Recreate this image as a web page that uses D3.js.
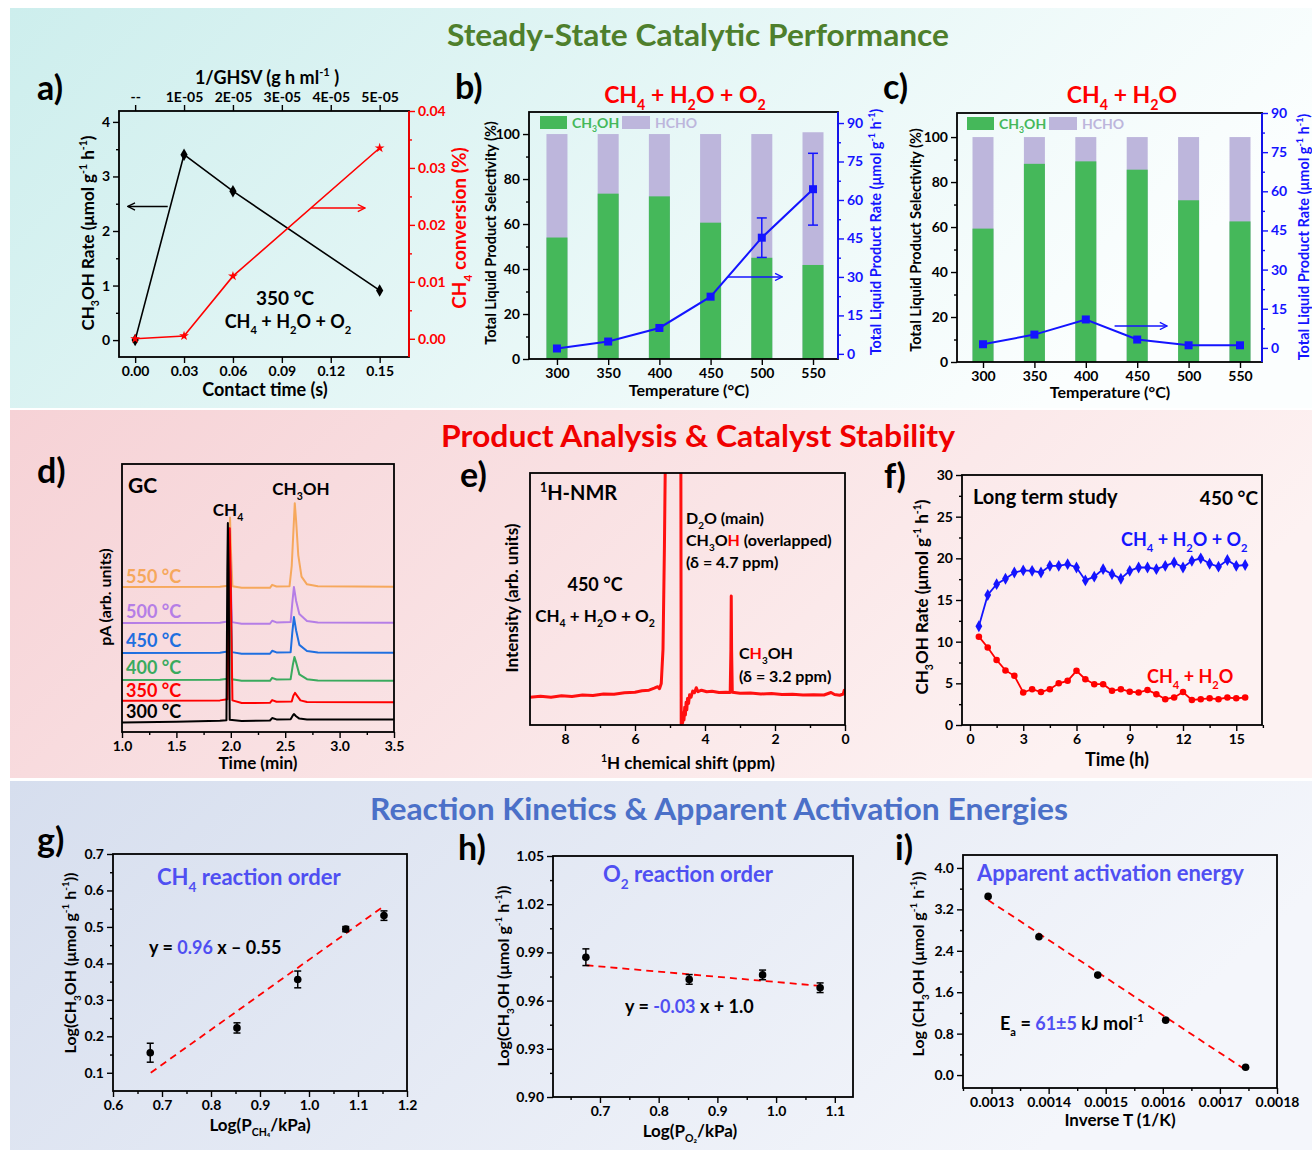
<!DOCTYPE html>
<html>
<head>
<meta charset="utf-8">
<script src="https://cdn.jsdelivr.net/npm/d3@7"></script>
<style>
body { margin: 0; background: #fff; }
text { font-family: Lato, "Open Sans", sans-serif; font-weight: 700; white-space: pre; }
</style>
</head>
<body>
<div id="fig"></div>
<script>
// ---------------- data ----------------
// a) contact time study
var contactTime = [0, 0.03, 0.06, 0.15];
var rateA = [0, 3.4, 2.73, 0.91];
var convA = [0, 0.0005, 0.011, 0.0335];
var ghsvPos = [0, 0.03, 0.06, 0.09, 0.12, 0.15];
var ghsvLabels = ['--', '1E-05', '2E-05', '3E-05', '4E-05', '5E-05'];

// b) and c) temperature study
var temps = [300, 350, 400, 450, 500, 550];
var selB = [54, 73.5, 72.3, 60.6, 45, 41.8];
var totalB = [100, 100, 100, 100, 100, 100.8];
var rateB = [2.1, 4.8, 10.1, 22.3, 45.3, 64.2];
var errB = [0, 0, 0, 0, 7.7, 14];
var selC = [59.3, 88.1, 89.2, 85.5, 71.9, 62.5];
var totalC = [100, 100, 100, 100, 100, 100];
var rateC = [1.4, 5.1, 10.9, 3.2, 1.0, 1.0];
var errC = [0, 0, 0, 0, 0, 0];

// d) GC traces [time min, signal a.u.]
var gcTemps = [550, 500, 450, 400, 350, 300];
var gc550 = [[1.0,54.1],[1.9,54.2],[1.975,54.6],[1.987,68],[1.993,80],[2.001,68],[2.015,54.4],[2.1,53.8],[2.36,53.8],[2.38,54.9],[2.42,54.3],[2.54,54.4],[2.56,62],[2.588,85.4],[2.6,79],[2.62,66],[2.65,58],[2.7,55.1],[2.8,54.4],[3.5,54.2]];
var gc500 = [[1.0,40.7],[1.9,40.8],[1.97,41.2],[1.98,65],[1.988,76],[1.996,62],[2.01,41.0],[2.1,40.4],[2.36,40.4],[2.38,41.5],[2.42,40.9],[2.55,41.0],[2.565,48],[2.58,54.1],[2.6,49],[2.63,44],[2.7,41.4],[2.8,40.9],[3.5,40.8]];
var gc450 = [[1.0,29.5],[1.9,29.6],[1.97,30.0],[1.98,62],[1.987,75],[1.995,60],[2.01,29.8],[2.1,29.2],[2.36,29.2],[2.38,30.3],[2.42,29.7],[2.55,29.8],[2.565,37],[2.58,42.9],[2.6,38],[2.63,32.5],[2.7,30.2],[2.8,29.7],[3.5,29.6]];
var gc400 = [[1.0,19.4],[1.9,19.5],[1.97,19.9],[1.98,58],[1.987,74],[1.995,56],[2.01,19.7],[2.1,19.1],[2.36,19.1],[2.38,20.2],[2.42,19.6],[2.55,19.7],[2.57,25],[2.585,28],[2.6,26],[2.63,21.5],[2.7,19.7],[2.8,19.2],[3.5,19.1]];
var gc350 = [[1.0,11.7],[1.9,11.8],[1.97,12.2],[1.982,50],[1.99,76],[1.998,60],[2.015,11.8],[2.1,10.8],[2.36,10.9],[2.38,11.9],[2.42,11.3],[2.56,11.4],[2.575,13.5],[2.59,14.6],[2.61,13.5],[2.64,11.8],[2.7,11.2],[3.5,11.1]];
var gc300 = [[1.0,3.5],[1.5,3.8],[1.9,4.2],[1.96,4.4],[1.968,60],[1.973,78],[1.98,60],[1.99,4.6],[2.1,4.1],[2.36,4.3],[2.38,5.2],[2.42,4.7],[2.55,4.8],[2.57,6.2],[2.58,6.7],[2.6,5.9],[2.63,5.0],[2.7,4.7],[3.5,4.7]];

// e) 1H-NMR trace [ppm, intensity a.u.]
var nmrTrace = [[9.0,11.0],[8.7,11.4],[8.4,11.0],[8.1,11.6],[7.8,11.3],[7.5,11.9],[7.2,11.7],[6.9,12.3],[6.6,12.2],[6.3,12.8],[6.0,13.0],[5.8,13.6],[5.6,13.8],[5.45,14.6],[5.35,15.2],[5.3,14.4],[5.25,16.5],[5.2,30],[5.16,70],[5.13,110],[4.9,400],[4.69,110],[4.68,0.5],[4.66,3],[4.64,0.8],[4.62,5],[4.6,2],[4.58,7],[4.56,4],[4.54,9],[4.52,6],[4.5,10.5],[4.47,8.5],[4.44,12],[4.4,11],[4.35,13.5],[4.3,12.8],[4.25,14.8],[4.2,13.2],[4.1,13.8],[3.95,13.2],[3.8,13.4],[3.6,12.9],[3.4,13.0],[3.28,12.9],[3.26,30],[3.25,51.2],[3.24,30],[3.22,13.0],[3.0,12.6],[2.7,12.7],[2.4,12.3],[2.1,12.5],[1.8,12.1],[1.5,12.2],[1.2,11.9],[0.9,12.0],[0.6,11.9],[0.4,12.9],[0.3,12.1],[0.15,11.8],[0.05,12.3],[0.02,13.8],[0.0,12.5]];

// f) long term study
var hoursF = [0.5,1,1.5,2,2.5,3,3.5,4,4.5,5,5.5,6,6.5,7,7.5,8,8.5,9,9.5,10,10.5,11,11.5,12,12.5,13,13.5,14,14.5,15,15.5];
var rateO2F = [11.85,15.6,16.9,17.55,18.3,18.55,18.5,18.3,19.1,19.1,19.3,18.9,17.35,17.8,18.7,18.1,17.55,18.5,18.9,18.9,18.7,19.1,19.5,18.9,19.7,20.0,19.35,19.0,19.8,19.1,19.2];
var rateH2OF = [10.6,9.3,7.8,6.55,5.9,3.9,4.3,3.95,4.3,5.0,5.3,6.5,5.5,4.9,4.9,4.1,4.3,4.0,3.9,4.2,3.7,3.1,3.3,3.95,3.0,3.1,3.2,3.1,3.3,3.2,3.3];

// g) CH4 order
var logPCH4 = [0.676, 0.853, 0.977, 1.075, 1.153];
var logRateG = [0.155, 0.223, 0.356, 0.494, 0.531];
var errG = [0.026, 0.014, 0.023, 0.007, 0.013];
var fitG = [[0.677, 0.10], [1.15, 0.554]];

// h) O2 order
var logPO2 = [0.676, 0.852, 0.977, 1.075];
var logRateH = [0.987, 0.9732, 0.976, 0.968];
var errH = [0.0052, 0.003, 0.003, 0.003];
var fitH = [[0.677, 0.982], [1.08, 0.969]];

// i) Arrhenius
var invT = [0.001294, 0.001383, 0.001486, 0.001605, 0.001745];
var logRateI = [3.45, 2.67, 1.93, 1.06, 0.15];
var fitI = [[0.001294, 3.38], [0.001745, 0.10]];

// ---------------- styles ----------------
var RED = '#ff0000', BLUE = '#1414ff', GREEN = '#45b85a', LAV = '#bdb6dc', TBLUE = '#4f4ff2';
var gcColors = ['#f6a85c', '#b57ee6', '#1f6fe0', '#3aaa5e', '#ff0000', '#000000'];

var svg = d3.select('#fig').append('svg').attr('width', 1312).attr('height', 1150);
var defs = svg.append('defs');

function grad(id, c0, c1) {
  var g = defs.append('linearGradient').attr('id', id).attr('x1', 0).attr('y1', 0).attr('x2', 1).attr('y2', 0.3);
  g.append('stop').attr('offset', 0).attr('stop-color', c0);
  g.append('stop').attr('offset', 1).attr('stop-color', c1);
}
grad('bg1', '#cdeeed', '#fbfefe');
grad('bg2', '#f6d2d6', '#fdf2f2');
grad('bg3', '#d6deee', '#f4f6fb');

['#000', RED, BLUE].forEach(function (c, i) {
  defs.append('marker').attr('id', 'arr' + i).attr('viewBox', '0 0 10 10').attr('refX', 9).attr('refY', 5)
    .attr('markerWidth', 9).attr('markerHeight', 9).attr('markerUnits', 'userSpaceOnUse').attr('orient', 'auto')
    .append('path').attr('d', 'M1,1 L9,5 L1,9').attr('fill', 'none').attr('stroke', c).attr('stroke-width', 1.5);
});

svg.append('rect').attr('x', 10).attr('y', 8).attr('width', 1302).attr('height', 400).attr('fill', 'url(#bg1)');
svg.append('rect').attr('x', 10).attr('y', 410).attr('width', 1302).attr('height', 368).attr('fill', 'url(#bg2)');
svg.append('rect').attr('x', 10).attr('y', 781).attr('width', 1302).attr('height', 369).attr('fill', 'url(#bg3)');

// ---------------- helpers ----------------
function rich(t, str, fs) {
  var parts = str.split(/(_\{[^}]*\}|\^\{[^}]*\}|\[[^\]]*\])/).filter(function (s) { return s !== ''; });
  var shift = 0;
  parts.forEach(function (p) {
    var txt = p, target = 0, small = false, fill = null;
    if (p[0] === '_' && p[1] === '{') { txt = p.slice(2, -1); target = fs * 0.32; small = true; }
    else if (p[0] === '^' && p[1] === '{') { txt = p.slice(2, -1); target = -fs * 0.42; small = true; }
    else if (p[0] === '[') { var k = p.indexOf('|'); fill = p.slice(1, k); txt = p.slice(k + 1, -1); }
    var ts = t.append('tspan').attr('dy', target - shift).text(txt);
    shift = target;
    if (small) ts.attr('font-size', fs * 0.62);
    if (fill) ts.attr('fill', fill);
  });
}

function label(x, y, str, o) {
  o = o || {};
  var fs = o.fs || 16;
  var t = svg.append('text').attr('x', x).attr('y', y).attr('font-size', fs)
    .attr('fill', o.fill || '#000').attr('text-anchor', o.anchor || 'start');
  if (o.rot) t.attr('transform', 'rotate(-90,' + x + ',' + y + ')');
  if (o.len) t.attr('textLength', o.len).attr('lengthAdjust', 'spacingAndGlyphs');
  rich(t, str, fs);
  return t;
}

function tidy(g, color, fs) {
  g.select('.domain').remove();
  g.selectAll('line').attr('stroke', color).attr('stroke-width', 1.4);
  g.selectAll('text').attr('fill', color).attr('font-size', fs).attr('font-family', 'Lato').attr('font-weight', 700);
}

function drawAxis(type, scale, tx, ty, major, minor, fmt, color) {
  color = color || '#000';
  var mk = { left: d3.axisLeft, right: d3.axisRight, top: d3.axisTop, bottom: d3.axisBottom }[type];
  if (minor) {
    svg.append('g').attr('transform', 'translate(' + tx + ',' + ty + ')')
      .call(mk(scale).tickValues(minor).tickSize(3).tickFormat(''))
      .call(tidy, color, 14);
  }
  if (major) {
    svg.append('g').attr('transform', 'translate(' + tx + ',' + ty + ')')
      .call(mk(scale).tickValues(major).tickSize(6).tickPadding(3).tickFormat(fmt))
      .call(tidy, color, 14);
  }
}

function frame(P, rightColor) {
  svg.append('rect').attr('x', P.l).attr('y', P.t).attr('width', P.r - P.l).attr('height', P.b - P.t)
    .attr('fill', 'none').attr('stroke', '#000').attr('stroke-width', 1.8);
  if (rightColor) {
    svg.append('line').attr('x1', P.r).attr('x2', P.r).attr('y1', P.t).attr('y2', P.b)
      .attr('stroke', rightColor).attr('stroke-width', 1.8);
  }
}

function arrow(x1, y1, x2, y2, color, id) {
  svg.append('line').attr('x1', x1).attr('y1', y1).attr('x2', x2).attr('y2', y2)
    .attr('stroke', color).attr('stroke-width', 1.5).attr('marker-end', 'url(#' + id + ')');
}

function errBars(xs, ys, es, xS, yS, color, cap) {
  xs.forEach(function (x, i) {
    if (!es[i]) return;
    var px = xS(x), y0 = yS(ys[i] - es[i]), y1 = yS(ys[i] + es[i]);
    svg.append('line').attr('x1', px).attr('x2', px).attr('y1', y0).attr('y2', y1).attr('stroke', color).attr('stroke-width', 1.5);
    [y0, y1].forEach(function (yy) {
      svg.append('line').attr('x1', px - cap).attr('x2', px + cap).attr('y1', yy).attr('y2', yy).attr('stroke', color).attr('stroke-width', 1.5);
    });
  });
}

function f(s) { return d3.format(s); }

// ---------------- section titles ----------------
label(698, 46, 'Steady-State Catalytic Performance', { fs: 30, fill: '#4e7f2c', anchor: 'middle', len: 502 });
label(698, 447, 'Product Analysis & Catalyst Stability', { fs: 30, fill: '#f00000', anchor: 'middle', len: 514 });
label(719, 820, 'Reaction Kinetics & Apparent Activation Energies', { fs: 30, fill: '#4b70c8', anchor: 'middle', len: 698 });

// ---------------- a) ----------------
var A = { l: 119, r: 409, t: 111, b: 357 };
var xA = d3.scaleLinear().domain([-0.0099, 0.168]).range([A.l, A.r]);
var yA = d3.scaleLinear().domain([-0.31, 4.2]).range([A.b, A.t]);
var y2A = d3.scaleLinear().domain([-0.0032, 0.04]).range([A.b, A.t]);
drawAxis('bottom', xA, 0, A.b, [0, 0.03, 0.06, 0.09, 0.12, 0.15], null, f('.2f'));
drawAxis('top', xA, 0, A.t, ghsvPos, null, function (d, i) { return ghsvLabels[i]; });
drawAxis('left', yA, A.l, 0, [0, 1, 2, 3, 4], [0.5, 1.5, 2.5, 3.5], f('d'));
drawAxis('right', y2A, A.r, 0, [0, 0.01, 0.02, 0.03, 0.04], [0.005, 0.015, 0.025, 0.035], f('.2f'), RED);
frame(A, RED);

svg.append('path').datum(rateA)
  .attr('d', d3.line().x(function (d, i) { return xA(contactTime[i]); }).y(function (d) { return yA(d); }))
  .attr('fill', 'none').attr('stroke', '#000').attr('stroke-width', 1.6);
svg.append('path').datum(convA)
  .attr('d', d3.line().x(function (d, i) { return xA(contactTime[i]); }).y(function (d) { return y2A(d); }))
  .attr('fill', 'none').attr('stroke', RED).attr('stroke-width', 1.6);
svg.selectAll('.mkA').data(rateA).enter().append('path')
  .attr('d', d3.symbol().type(d3.symbolDiamond).size(45))
  .attr('transform', function (d, i) { return 'translate(' + xA(contactTime[i]) + ',' + yA(d) + ')'; })
  .attr('fill', '#000');
svg.selectAll('.mkA2').data(convA).enter().append('path')
  .attr('d', d3.symbol().type(d3.symbolStar).size(30))
  .attr('transform', function (d, i) { return 'translate(' + xA(contactTime[i]) + ',' + y2A(d) + ')'; })
  .attr('fill', RED);
arrow(xA(0.02), yA(2.45), xA(-0.0045), yA(2.45), '#000', 'arr0');
arrow(xA(0.108), yA(2.42), xA(0.141), yA(2.42), RED, 'arr1');

label(37, 100, 'a)', { fs: 34 });
label(267, 84, '1/GHSV (g h ml^{-1} )', { fs: 18, anchor: 'middle' });
label(265, 396, 'Contact time (s)', { fs: 18, anchor: 'middle' });
label(94, 233, 'CH_{3}OH Rate (μmol g^{-1} h^{-1})', { fs: 17, anchor: 'middle', rot: true });
label(466, 228, 'CH_{4} conversion (%)', { fs: 19, anchor: 'middle', rot: true, fill: RED });
label(285, 305, '350 °C', { fs: 19, anchor: 'middle' });
label(288, 328, 'CH_{4} + H_{2}O + O_{2}', { fs: 18, anchor: 'middle' });

// ---------------- b) / c) ----------------
function selPanel(P, xDom, yDom, y2Dom, sel, total, rate, err, arrowPts, legX) {
  var x = d3.scaleLinear().domain(xDom).range([P.l, P.r]);
  var y = d3.scaleLinear().domain(yDom).range([P.b, P.t]);
  var y2 = d3.scaleLinear().domain(y2Dom).range([P.b, P.t]);
  var bw = 21;
  drawAxis('bottom', x, 0, P.b, temps, null, f('d'));
  drawAxis('left', y, P.l, 0, [0, 20, 40, 60, 80, 100], [10, 30, 50, 70, 90], f('d'));
  drawAxis('right', y2, P.r, 0, [0, 15, 30, 45, 60, 75, 90], [7.5, 22.5, 37.5, 52.5, 67.5, 82.5], f('d'), BLUE);
  svg.selectAll(null).data(total).enter().append('rect')
    .attr('x', function (d, i) { return x(temps[i]) - bw / 2; }).attr('width', bw)
    .attr('y', function (d) { return y(d); }).attr('height', function (d) { return y(0) - y(d); })
    .attr('fill', LAV);
  svg.selectAll(null).data(sel).enter().append('rect')
    .attr('x', function (d, i) { return x(temps[i]) - bw / 2; }).attr('width', bw)
    .attr('y', function (d) { return y(d); }).attr('height', function (d) { return y(0) - y(d); })
    .attr('fill', GREEN);
  frame(P, BLUE);
  errBars(temps, rate, err, x, y2, BLUE, 5);
  svg.append('path').datum(rate)
    .attr('d', d3.line().x(function (d, i) { return x(temps[i]); }).y(function (d) { return y2(d); }))
    .attr('fill', 'none').attr('stroke', BLUE).attr('stroke-width', 2);
  svg.selectAll(null).data(rate).enter().append('rect')
    .attr('x', function (d, i) { return x(temps[i]) - 4; }).attr('y', function (d) { return y2(d) - 4; })
    .attr('width', 8).attr('height', 8).attr('fill', BLUE);
  arrow(x(arrowPts[0]), y2(arrowPts[2]), x(arrowPts[1]), y2(arrowPts[2]), BLUE, 'arr2');
  // legend
  svg.append('rect').attr('x', legX).attr('y', P.t + 4).attr('width', 27).attr('height', 13).attr('fill', GREEN);
  label(legX + 32, P.t + 16, 'CH_{3}OH', { fs: 14, fill: GREEN });
  svg.append('rect').attr('x', legX + 82).attr('y', P.t + 4).attr('width', 28).attr('height', 13).attr('fill', LAV);
  label(legX + 115, P.t + 16, 'HCHO', { fs: 14, fill: LAV });
}

var B = { l: 529, r: 838, t: 112, b: 359 };
selPanel(B, [272.7, 574.4], [0, 109.8], [-2, 94.3], selB, totalB, rateB, errB, [467, 520, 30], 540);
label(455, 99, 'b)', { fs: 34 });
label(685, 103, 'CH_{4} + H_{2}O + O_{2}', { fs: 23, fill: RED, anchor: 'middle' });
label(496, 233, 'Total Liquid Product Selectivity (%)', { fs: 14.5, anchor: 'middle', rot: true });
label(881, 232, 'Total Liquid Product Rate (μmol g^{-1} h^{-1})', { fs: 14.5, anchor: 'middle', rot: true, fill: BLUE });
label(689, 396, 'Temperature (°C)', { fs: 16, anchor: 'middle' });

var Cp = { l: 957, r: 1262, t: 113, b: 362 };
selPanel(Cp, [274.7, 571.4], [0, 110.7], [-5.4, 90], selC, totalC, rateC, errC, [428, 479, 8.4], 967);
label(883, 99, 'c)', { fs: 34 });
label(1122, 103, 'CH_{4} + H_{2}O', { fs: 23, fill: RED, anchor: 'middle' });
label(921, 240, 'Total Liquid Product Selectivity (%)', { fs: 14.5, anchor: 'middle', rot: true });
label(1309, 237, 'Total Liquid Product Rate (μmol g^{-1} h^{-1})', { fs: 14.5, anchor: 'middle', rot: true, fill: BLUE });
label(1110, 398, 'Temperature (°C)', { fs: 16, anchor: 'middle' });

// ---------------- d) GC ----------------
var D = { l: 122, r: 394, t: 464, b: 732 };
var xD = d3.scaleLinear().domain([1, 3.5]).range([D.l, D.r]);
var yD = d3.scaleLinear().domain([0, 100]).range([D.b, D.t]);
drawAxis('bottom', xD, 0, D.b, [1, 1.5, 2, 2.5, 3, 3.5], [1.25, 1.75, 2.25, 2.75, 3.25], f('.1f'));
var gcLine = d3.line().x(function (d) { return xD(d[0]); }).y(function (d) { return yD(d[1]); });
[gc550, gc500, gc450, gc400, gc350, gc300].forEach(function (tr, i) {
  svg.append('path').datum(tr).attr('d', gcLine).attr('fill', 'none')
    .attr('stroke', gcColors[i]).attr('stroke-width', 2).attr('stroke-linejoin', 'round');
});
frame(D);
var gcLabelY = [583, 618, 647, 674, 697, 718];
gcTemps.forEach(function (t, i) {
  label(126, gcLabelY[i], t + ' °C', { fs: 18, fill: gcColors[i] });
});
label(37, 483, 'd)', { fs: 34 });
label(128, 493, 'GC', { fs: 21 });
label(228, 516, 'CH_{4}', { fs: 17, anchor: 'middle' });
label(301, 495, 'CH_{3}OH', { fs: 17, anchor: 'middle' });
label(111, 597, 'pA (arb. units)', { fs: 16, anchor: 'middle', rot: true });
label(258, 769, 'Time (min)', { fs: 17, anchor: 'middle' });

// ---------------- e) NMR ----------------
var E = { l: 530, r: 845, t: 473, b: 725 };
var xE = d3.scaleLinear().domain([9, 0]).range([E.l, E.r]);
var yE = d3.scaleLinear().domain([0, 100]).range([E.b, E.t]);
defs.append('clipPath').attr('id', 'clipE').append('rect')
  .attr('x', E.l).attr('y', E.t).attr('width', E.r - E.l).attr('height', E.b - E.t);
drawAxis('bottom', xE, 0, E.b, [8, 6, 4, 2, 0], [7, 5, 3, 1], f('d'));
svg.append('path').datum(nmrTrace).attr('clip-path', 'url(#clipE)')
  .attr('d', d3.line().x(function (d) { return xE(d[0]); }).y(function (d) { return yE(d[1]); }))
  .attr('fill', 'none').attr('stroke', '#ff1010').attr('stroke-width', 3).attr('stroke-linejoin', 'round');
frame(E);
label(460, 487, 'e)', { fs: 34 });
label(540, 500, '^{1}H-NMR', { fs: 20 });
label(686, 524, 'D_{2}O (main)', { fs: 16 });
label(686, 546, 'CH_{3}O[#ff0000|H] (overlapped)', { fs: 16 });
label(686, 568, '(δ = 4.7 ppm)', { fs: 16 });
label(595, 591, '450 °C', { fs: 18, anchor: 'middle' });
label(595, 622, 'CH_{4} + H_{2}O + O_{2}', { fs: 17, anchor: 'middle' });
label(739, 659, 'C[#ff0000|H]_{3}OH', { fs: 16 });
label(739, 682, '(δ = 3.2 ppm)', { fs: 16 });
label(518, 598, 'Intensity (arb. units)', { fs: 17, anchor: 'middle', rot: true });
label(688, 769, '^{1}H chemical shift (ppm)', { fs: 17, anchor: 'middle' });

// ---------------- f) long term ----------------
var F = { l: 962, r: 1262, t: 475, b: 725 };
var xF = d3.scaleLinear().domain([-0.45, 16.45]).range([F.l, F.r]);
var yF = d3.scaleLinear().domain([0, 30]).range([F.b, F.t]);
drawAxis('bottom', xF, 0, F.b, [0, 3, 6, 9, 12, 15], [1.5, 4.5, 7.5, 10.5, 13.5, 16.5], f('d'));
drawAxis('left', yF, F.l, 0, [0, 5, 10, 15, 20, 25, 30], [2.5, 7.5, 12.5, 17.5, 22.5, 27.5], f('d'));
frame(F);
function seriesF(vals, color, sym, size) {
  svg.append('path').datum(vals)
    .attr('d', d3.line().x(function (d, i) { return xF(hoursF[i]); }).y(function (d) { return yF(d); }))
    .attr('fill', 'none').attr('stroke', color).attr('stroke-width', 1.8);
  svg.selectAll(null).data(vals).enter().append('path')
    .attr('d', d3.symbol().type(sym).size(size))
    .attr('transform', function (d, i) { return 'translate(' + xF(hoursF[i]) + ',' + yF(d) + ')'; })
    .attr('fill', color);
}
seriesF(rateO2F, BLUE, d3.symbolDiamond, 40);
seriesF(rateH2OF, RED, d3.symbolCircle, 34);
label(884, 488, 'f)', { fs: 34 });
label(973, 504, 'Long term study', { fs: 20 });
label(1258, 505, '450 °C', { fs: 19, anchor: 'end' });
label(1121, 546, 'CH_{4} + H_{2}O + O_{2}', { fs: 18, fill: BLUE });
label(1147, 683, 'CH_{4} + H_{2}O', { fs: 18, fill: RED });
label(928, 597, 'CH_{3}OH Rate (μmol g^{-1} h^{-1})', { fs: 17, anchor: 'middle', rot: true });
label(1117, 766, 'Time (h)', { fs: 18, anchor: 'middle' });

// ---------------- g) / h) / i) ----------------
function scatter(xs, ys, xS, yS) {
  svg.selectAll(null).data(ys).enter().append('circle')
    .attr('cx', function (d, i) { return xS(xs[i]); }).attr('cy', function (d) { return yS(d); })
    .attr('r', 3.8).attr('fill', '#000');
}
function fitLine(pts, xS, yS) {
  svg.append('path').datum(pts)
    .attr('d', d3.line().x(function (d) { return xS(d[0]); }).y(function (d) { return yS(d[1]); }))
    .attr('fill', 'none').attr('stroke', RED).attr('stroke-width', 1.8).attr('stroke-dasharray', '7,5');
}

var G = { l: 113, r: 407, t: 854, b: 1091 };
var xG = d3.scaleLinear().domain([0.6, 1.2]).range([G.l, G.r]);
var yG = d3.scaleLinear().domain([0.05, 0.7]).range([G.b, G.t]);
drawAxis('bottom', xG, 0, G.b, [0.6, 0.7, 0.8, 0.9, 1.0, 1.1, 1.2], [0.65, 0.75, 0.85, 0.95, 1.05, 1.15], f('.1f'));
drawAxis('left', yG, G.l, 0, [0.1, 0.2, 0.3, 0.4, 0.5, 0.6, 0.7], [0.15, 0.25, 0.35, 0.45, 0.55, 0.65], f('.1f'));
frame(G);
fitLine(fitG, xG, yG);
errBars(logPCH4, logRateG, errG, xG, yG, '#000', 3.5);
scatter(logPCH4, logRateG, xG, yG);
label(37, 852, 'g)', { fs: 34 });
label(157, 885, 'CH_{4} reaction order', { fs: 22, fill: TBLUE });
label(149, 954, 'y = [' + TBLUE + '|0.96] x – 0.55', { fs: 18 });
label(76, 963, 'Log(CH_{3}OH (μmol g^{-1} h^{-1}))', { fs: 16, anchor: 'middle', rot: true });
label(260, 1131, 'Log(P_{CH₄}/kPa)', { fs: 17, anchor: 'middle' });

var H = { l: 553, r: 853, t: 856, b: 1097 };
var xH = d3.scaleLinear().domain([0.62, 1.131]).range([H.l, H.r]);
var yH = d3.scaleLinear().domain([0.90, 1.05]).range([H.b, H.t]);
drawAxis('bottom', xH, 0, H.b, [0.7, 0.8, 0.9, 1.0, 1.1], [0.65, 0.75, 0.85, 0.95, 1.05], f('.1f'));
drawAxis('left', yH, H.l, 0, [0.90, 0.93, 0.96, 0.99, 1.02, 1.05], [0.915, 0.945, 0.975, 1.005, 1.035], f('.2f'));
frame(H);
fitLine(fitH, xH, yH);
errBars(logPO2, logRateH, errH, xH, yH, '#000', 3.5);
scatter(logPO2, logRateH, xH, yH);
label(458, 860, 'h)', { fs: 34 });
label(603, 882, 'O_{2} reaction order', { fs: 22, fill: TBLUE });
label(625, 1013, 'y = [' + TBLUE + '|-0.03] x + 1.0', { fs: 18 });
label(509, 976, 'Log(CH_{3}OH (μmol g^{-1} h^{-1}))', { fs: 16, anchor: 'middle', rot: true });
label(690, 1137, 'Log(P_{O₂}/kPa)', { fs: 17, anchor: 'middle' });

var I = { l: 963, r: 1277, t: 855, b: 1088 };
var xI = d3.scaleLinear().domain([0.00125, 0.0018]).range([I.l, I.r]);
var yI = d3.scaleLinear().domain([-0.25, 4.25]).range([I.b, I.t]);
drawAxis('bottom', xI, 0, I.b, [0.0013, 0.0014, 0.0015, 0.0016, 0.0017, 0.0018], [0.00125, 0.00135, 0.00145, 0.00155, 0.00165, 0.00175], f('.4f'));
drawAxis('left', yI, I.l, 0, [0, 0.8, 1.6, 2.4, 3.2, 4.0], [0.4, 1.2, 2.0, 2.8, 3.6], f('.1f'));
frame(I);
fitLine(fitI, xI, yI);
scatter(invT, logRateI, xI, yI);
label(895, 860, 'i)', { fs: 34 });
label(977, 881, 'Apparent activation energy', { fs: 22, fill: TBLUE });
label(1000, 1030, 'E_{a} = [' + TBLUE + '|61±5] kJ mol^{-1}', { fs: 18 });
label(924, 964, 'Log (CH_{3}OH (μmol g^{-1} h^{-1}))', { fs: 16, anchor: 'middle', rot: true });
label(1120, 1126, 'Inverse T (1/K)', { fs: 17, anchor: 'middle' });
</script>
</body>
</html>
